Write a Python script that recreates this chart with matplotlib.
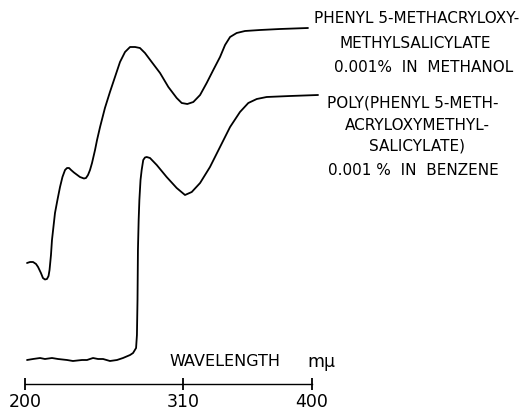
import matplotlib
matplotlib.use("Agg")
import matplotlib.pyplot as plt

# Monomer: phenyl 5-methacryloxymethylsalicylate (0.001% in methanol), offset curve
wl_monomer = [201.4, 203.5, 205.6, 207.7, 209.1, 211.1, 212.5, 213.9, 215.3, 216.4,
              217.1, 218.1, 218.8, 220.9, 222.6, 224.4, 226.1, 227.9, 229.3, 230.7,
              232.1, 234.1, 238.3, 241.1, 242.5, 243.9, 245.3, 246.7, 248.8, 250.2,
              252.3, 255.7, 259.2, 262.7, 266.2, 269.7, 273.2, 276.7, 280.1, 283.6,
              288.3, 294.1, 299.9, 305.7, 309.2, 313.1, 317.3, 322.0, 326.6, 331.2,
              335.9, 339.4, 342.9, 347.5, 353.3, 363.8, 377.7, 397.2]
abs_monomer = [1.21, 1.22, 1.22, 1.20, 1.17, 1.11, 1.06, 1.045, 1.05, 1.08,
               1.14, 1.29, 1.44, 1.71, 1.84, 1.97, 2.07, 2.14, 2.16, 2.16,
               2.14, 2.115, 2.07, 2.055, 2.06, 2.09, 2.14, 2.21, 2.34, 2.44,
               2.57, 2.76, 2.92, 3.07, 3.22, 3.32, 3.37, 3.37, 3.36, 3.31,
               3.22, 3.11, 2.97, 2.86, 2.81, 2.80, 2.82, 2.89, 3.01, 3.14,
               3.27, 3.39, 3.47, 3.51, 3.53, 3.54, 3.55, 3.56]

# Polymer: poly(phenyl 5-methacryloxymethylsalicylate) (0.001% in benzene)
wl_polymer = [201.4, 205.6, 210.5, 213.9, 218.8, 223.0, 229.3, 233.4, 239.7, 243.2,
              247.4, 250.9, 254.4, 259.2, 264.1, 268.3, 273.2, 275.3, 277.4, 278.0,
              278.4, 278.7, 279.2, 279.7, 280.5, 281.3, 282.4, 283.6, 284.8, 287.1,
              291.8, 298.7, 305.7, 311.5, 316.2, 322.0, 328.9, 335.9, 342.9, 349.8,
              355.6, 361.5, 368.4, 384.7, 404.2]
abs_polymer = [0.24, 0.25, 0.26, 0.25, 0.26, 0.25, 0.24, 0.23, 0.24, 0.24,
               0.26, 0.25, 0.25, 0.23, 0.24, 0.26, 0.29, 0.31, 0.36, 0.49,
               0.84, 1.34, 1.64, 1.84, 2.04, 2.14, 2.24, 2.265, 2.27, 2.26,
               2.19, 2.07, 1.96, 1.89, 1.92, 2.01, 2.17, 2.37, 2.57, 2.72,
               2.81, 2.85, 2.87, 2.88, 2.89]

tick_values = [200, 310, 400]
tick_labels = ["200", "310", "400"]

label_monomer = ["PHENYL 5-METHACRYLOXY-", "METHYLSALICYLATE", "0.001%  IN  METHANOL"]
label_polymer = ["POLY(PHENYL 5-METH-", "ACRYLOXYMETHYL-", "SALICYLATE)", "0.001 %  IN  BENZENE"]

W, H = 531, 412
fig = plt.figure(figsize=(W / 100, H / 100), dpi=100)
ax = fig.add_axes([0, 0, 1, 1])
ax.set_xlim(182.58, 552.6)
ax.set_ylim(-0.28, 3.84)

ax.plot(wl_monomer, abs_monomer, color="black", lw=1.3, solid_joinstyle="round", solid_capstyle="round")
ax.plot(wl_polymer, abs_polymer, color="black", lw=1.3, solid_joinstyle="round", solid_capstyle="round")

for s in ["top", "left", "right"]:
    ax.spines[s].set_visible(False)
ax.spines["bottom"].set_position(("data", 0.0))
ax.spines["bottom"].set_bounds(200, 400)
ax.spines["bottom"].set_linewidth(1.0)
ax.set_yticks([])
ax.set_xticks(tick_values)
ax.set_xticklabels(tick_labels)
ax.tick_params(axis="x", direction="inout", length=9, width=1.3, pad=2, labelsize=12.5)
ax.patch.set_visible(False)

ax.text(339.4, 0.22, "WAVELENGTH", fontsize=11.5, ha="center", va="center")
ax.text(406.3, 0.22, "mμ", fontsize=12.5, ha="center", va="center")

def fig_text(x, y, s):
    fig.text(x / W, 1 - y / H, s, fontsize=11, ha="center", va="center")

for (x, y), s in zip([(417, 18.5), (415, 43.5), (423.5, 67)], label_monomer):
    fig_text(x, y, s)
for (x, y), s in zip([(412.5, 103.5), (417.5, 125), (416.5, 146), (413.5, 170)], label_polymer):
    fig_text(x, y, s)

fig.savefig("out.png", dpi=100)
